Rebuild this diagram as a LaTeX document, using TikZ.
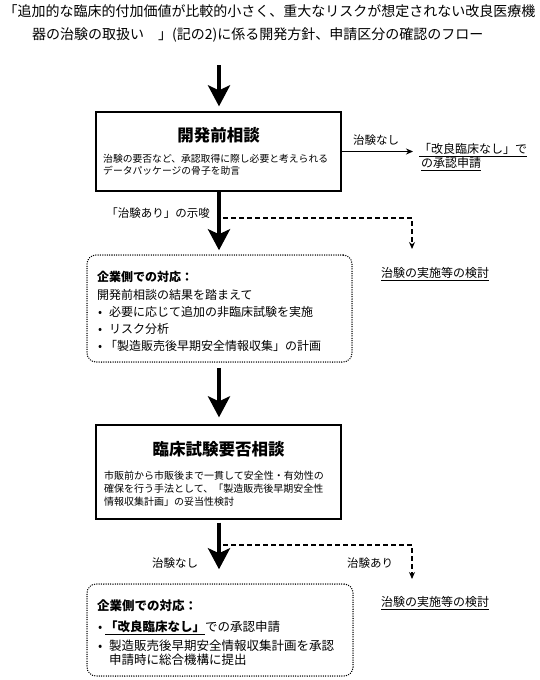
\documentclass[tikz,border=0pt]{standalone}
\usepackage{fontspec}
\setmainfont{Noto Sans CJK JP}
\usetikzlibrary{arrows.meta}
\newcommand\setfs[2]{\fontsize{#1}{#2}\selectfont}
\tikzset{
  solidbox/.style={draw, line width=1.3pt, inner sep=0pt},
  dotbox/.style={draw, line width=1.5pt, dash pattern=on 0.01pt off 2.3pt, line cap=round, rounded corners=9pt, inner sep=0pt},
  txt/.style={inner sep=0pt, anchor=base west},
  ctxt/.style={inner sep=0pt, anchor=base},
  bigarrow/.style={line width=4.5pt, -{Stealth[width=22pt,length=21pt,inset=5pt]}},
  thinarrow/.style={line width=0.9pt, -{Stealth[width=6pt,length=7pt]}},
  dasharrow/.style={line width=1.3pt, dash pattern=on 5pt off 3pt, -{Stealth[width=6pt,length=7pt]}},
}
\newcommand\bul{\makebox[12pt][l]{\hspace{1pt}•}}
\begin{document}
\begin{tikzpicture}[x=1pt,y=-1pt]
\useasboundingbox (0,0) rectangle (539,680);

% title
\node[ctxt, font=\setfs{14}{16}] (title1) at (269.5,16.3) {「追加的な臨床的付加価値が比較的小さく、重大なリスクが想定されない改良医療機};
\node[anchor=base west, inner sep=0pt, font=\setfs{14}{16}] (title2) at (32,39.3) {器の治験の取扱い　」(記の2)に係る開発方針、申請区分の確認のフロー};
\coordinate (a1s) at (219,65);

% box 1
\node[solidbox, minimum width=245pt, minimum height=79pt] (box1) at (218.5,151.5) {};
\node[ctxt, font=\setfs{16.5}{18}\bfseries] (box1t) at (218.5,141.3) {開発前相談};
\node[txt, font=\setfs{9.8}{12}] (box1a) at (103,162.8) {治験の要否など、承認取得に際し必要と考えられる};
\node[txt, font=\setfs{9.8}{12}] (box1b) at (103,174.8) {データパッケージの骨子を助言};

% right branch
\node[ctxt, font=\setfs{11.5}{13}] (nashi1) at (376,144.4) {治験なし};
\coordinate (r1e) at (413,151.5);
\draw[thinarrow] (box1.east) -- (r1e);
\node[txt, font=\setfs{12}{14}] (kairyo1) at (419,153.5) {\underline{「改良臨床なし」で}};
\node[txt, font=\setfs{12}{14}] (kairyo2) at (421,167.5) {\underline{の承認申請}};

% arrow 2 and dashed branch
\node[ctxt, font=\setfs{11.5}{13}] (shisa) at (158,217.4) {「治験あり」の示唆};
\node[dotbox, minimum width=265pt, minimum height=107pt] (dot1) at (219.5,308.5) {};
\draw[bigarrow, shorten >=4pt] (box1.south -| a1s) -- (dot1.north -| a1s);
\coordinate (d1s) at (223,218);
\coordinate (d1e) at (412,249);
\draw[dasharrow] (d1s) -| (d1e);
\node[ctxt, font=\setfs{12}{14}] (kentou1) at (435,277.6) {\underline{治験の実施等の検討}};

% arrow 1
\draw[bigarrow, shorten >=5pt] (a1s) -- (box1.north -| a1s);

% dotted box 1 text
\node[txt, font=\setfs{12}{14}\bfseries] (d1l1) at (97,281.5) {企業側での対応：};
\node[txt, font=\setfs{12}{14}] (d1l2) at (97,299.5) {開発前相談の結果を踏まえて};
\node[txt, font=\setfs{12}{14}] (d1l3) at (97,316.5) {\bul 必要に応じて追加の非臨床試験を実施};
\node[txt, font=\setfs{12}{14}] (d1l4) at (97,333.5) {\bul リスク分析};
\node[txt, font=\setfs{12}{14}] (d1l5) at (97,350) {\bul\hspace{-4pt}「製造販売後早期安全情報収集」の計画};

% box 2
\node[solidbox, minimum width=245pt, minimum height=94pt] (box2) at (218.5,472) {};
\draw[bigarrow, shorten <=5pt, shorten >=7pt] (dot1.south -| a1s) -- (box2.north -| a1s);
\node[ctxt, font=\setfs{16.5}{18}\bfseries] (box2t) at (218.5,455.3) {臨床試験要否相談};
\node[txt, font=\setfs{10}{13}] (box2a) at (104,479.8) {市販前から市販後まで一貫して安全性・有効性の};
\node[txt, font=\setfs{10}{13}] (box2b) at (104,492.8) {確保を行う手法として、「製造販売後早期安全性};
\node[txt, font=\setfs{10}{13}] (box2c) at (104,505.8) {情報収集計画」の妥当性検討};

% arrow 4 and branches
\node[dotbox, minimum width=266pt, minimum height=92pt] (dot2) at (220,630) {};
\draw[bigarrow, shorten <=3pt, shorten >=14pt] (box2.south -| a1s) -- (dot2.north -| a1s);
\coordinate (d2s) at (223,545);
\coordinate (d2e) at (412,579);
\draw[dasharrow] (d2s) -| (d2e);
\node[ctxt, font=\setfs{11.5}{13}] (nashi2) at (175,567.4) {治験なし};
\node[ctxt, font=\setfs{11.5}{13}] (ari2) at (370,567.4) {治験あり};
\node[ctxt, font=\setfs{12}{14}] (kentou2) at (435,606.6) {\underline{治験の実施等の検討}};

% dotted box 2 text
\node[txt, font=\setfs{12.5}{14}\bfseries] (d2l1) at (97,610.8) {企業側での対応：};
\node[txt, font=\setfs{12.5}{14}] (d2l2) at (97,631.8) {\bul\hspace{-4pt}\underline{\bfseries 「改良臨床なし」}での承認申請};
\node[txt, font=\setfs{12.5}{14}] (d2l3) at (97,650.8) {\bul 製造販売後早期安全情報収集計画を承認};
\node[txt, font=\setfs{12.5}{14}] (d2l4) at (109,664.8) {申請時に総合機構に提出};
\end{tikzpicture}
\end{document}
